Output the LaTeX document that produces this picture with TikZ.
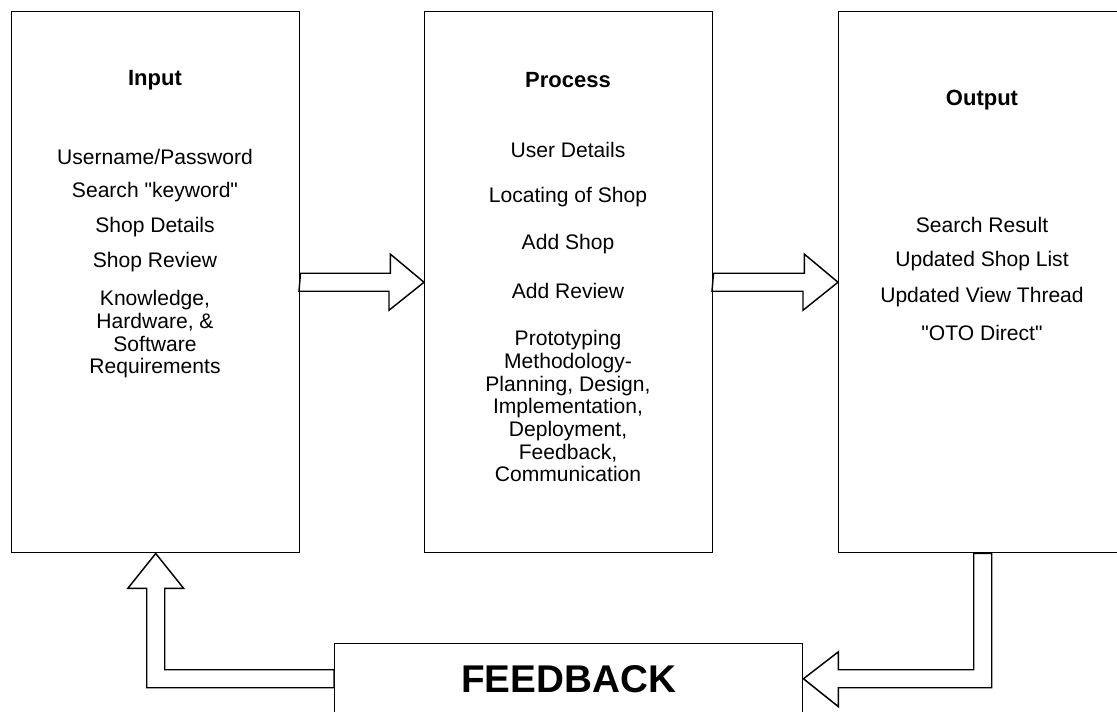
\documentclass[tikz,border=0pt]{standalone}
\usepackage{fontspec}
\setmainfont{Liberation Sans}
\usetikzlibrary{ positioning, % For easy node-relative placements
                 calc,        % For the arrow outlines
               }
\tikzstyle{block} = [rectangle, draw=black, line width=1.1pt, anchor=north west, inner sep=0pt]
\tikzstyle{heading} = [font=\fontsize{16.5}{19}\selectfont\bfseries]
\tikzstyle{item} = [font=\fontsize{15.8}{17}\selectfont, align=center]
\tikzstyle{fatarrow} = [draw=black, line width=1.1pt, fill=white, line join=miter]

\begin{document}
\begin{tikzpicture}[x=0.75pt, y=-0.75pt]
  \useasboundingbox (0,0) rectangle (1117,711);
  \clip (0,0) rectangle (1117,711);

  \node (input) [block, minimum width=216pt, minimum height=405.75pt] at (11, 11) {};
  \node (process) [block, minimum width=216pt, minimum height=405.75pt] at (424, 11) {};
  \node (output) [block, minimum width=216pt, minimum height=405.75pt] at (838, 11) {};
  \node (feedback) [block, minimum width=351pt, minimum height=52.5pt,
                    font=\fontsize{29}{34}\selectfont\bfseries] at (334, 643) {FEEDBACK};

  % Input
  \node (in0) [heading] at (155, 80) {Input};
  \node (in1) [item] at (155, 157) {Username/Password};
  \node (in2) [item] at (155, 192) {Search \textquotedbl keyword\textquotedbl};
  \node (in3) [item] at (155, 227) {Shop Details};
  \node (in4) [item] at (155, 262) {Shop Review};
  \node (in5) [item, anchor=north] at (155, 286) {Knowledge,\\Hardware, \&\\Software\\Requirements};

  % Process
  \node (pr0) [heading] at (568, 80) {Process};
  \node (pr1) [item] at (568, 150) {User Details};
  \node (pr2) [item] at (568, 197) {Locating of Shop};
  \node (pr3) [item] at (568, 244) {Add Shop};
  \node (pr4) [item] at (568, 291) {Add Review};
  \node (pr5) [item, anchor=north] at (568, 326) {Prototyping\\Methodology-\\Planning, Design,\\Implementation,\\Deployment,\\Feedback,\\Communication};

  % Output
  \node (ou0) [heading] at (982, 100) {Output};
  \node (ou1) [item] at (982, 225) {Search Result};
  \node (ou2) [item] at (982, 261) {Updated Shop List};
  \node (ou3) [item] at (982, 297) {Updated View Thread};
  \node (ou4) [item] at (982, 333) {\textquotedbl OTO Direct\textquotedbl};

  % block arrows between the stages
  \draw [fatarrow] ($(input.east)+(0,-9)$) -- ++(90,0) -- ++(0,-19) -- (process.west)
        -- ++(-35,28) -- ++(0,-19) -- ++(-90,0) -- cycle;
  \draw [fatarrow] ($(process.east)+(0,-9)$) -- ++(91,0) -- ++(0,-19) -- (output.west)
        -- ++(-35,28) -- ++(0,-19) -- ++(-91,0) -- cycle;

  % output -> feedback
  \draw [fatarrow] ($(output.south)+(-9,0)$) -- ($(output.south |- feedback.east)+(-9,-9)$)
        -- ($(feedback.east)+(35,-9)$) -- ($(feedback.east)+(35,-27)$) -- (feedback.east)
        -- ($(feedback.east)+(35,28)$) -- ($(feedback.east)+(35,9)$)
        -- ($(output.south |- feedback.east)+(9,9)$) -- ($(output.south)+(9,0)$) -- cycle;

  % feedback -> input
  \draw [fatarrow] ($(feedback.west)+(0,-9)$) -- ($(input.south |- feedback.west)+(9,-9)$)
        -- ($(input.south)+(9,35)$) -- ($(input.south)+(28,35)$) -- (input.south)
        -- ($(input.south)+(-28,35)$) -- ($(input.south)+(-9,35)$)
        -- ($(input.south |- feedback.west)+(-9,9)$) -- ($(feedback.west)+(0,9)$) -- cycle;
\end{tikzpicture}
\end{document}
